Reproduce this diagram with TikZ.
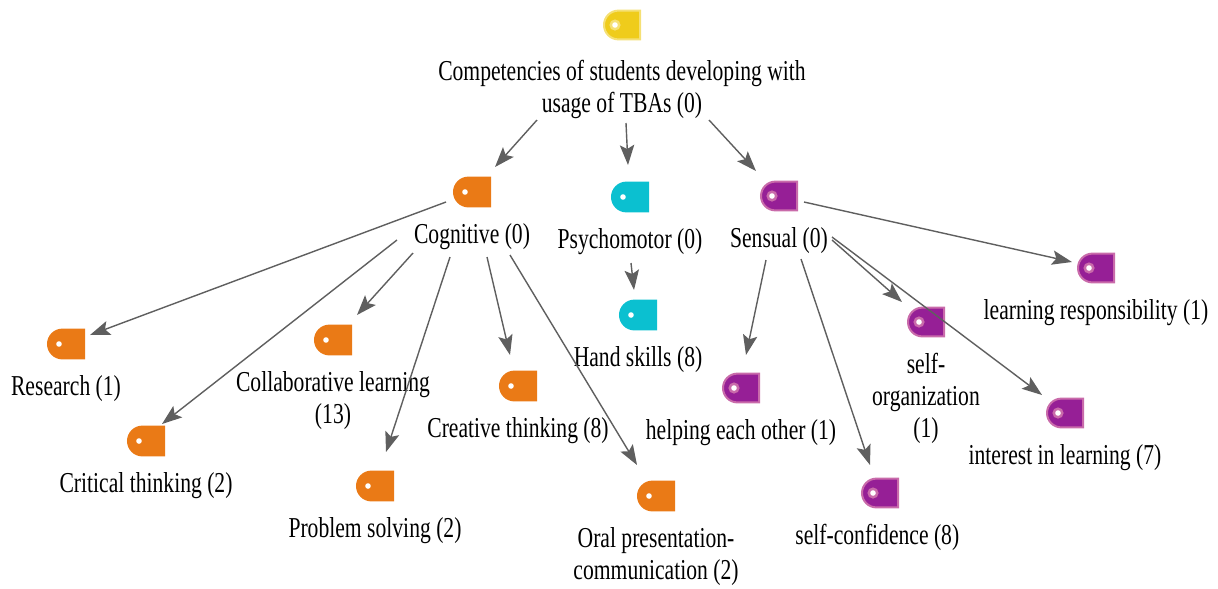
\documentclass[tikz,border=0pt]{standalone}
\usepackage{fontspec}
\setmainfont[FakeStretch=0.75]{Liberation Serif}
\usetikzlibrary{arrows.meta,shapes.misc}

\definecolor{tagyellow}{HTML}{EFCC1B}
\definecolor{tagyellowedge}{HTML}{F5E075}
\definecolor{tagorange}{HTML}{EA7A16}
\definecolor{tagcyan}{HTML}{0BC0D0}
\definecolor{tagpurple}{HTML}{961F96}
\definecolor{tagpurpleedge}{HTML}{C96BAA}
\definecolor{edgegray}{HTML}{5F5F5F}

\tikzset{
  tagbox/.style 2 args={rounded rectangle,rounded rectangle east arc=none,
    minimum width=.9cm,minimum height=.72cm,inner sep=0pt,line width=.05cm,fill=#1,draw=#2,
    path picture={
      \fill[#2] ([xshift=-.175cm]path picture bounding box.center) circle (.14cm);
      \fill[white] ([xshift=-.175cm]path picture bounding box.center) circle (.07cm);
    }},
  yellowtag/.style={tagbox={tagyellow}{tagyellowedge}},
  orangetag/.style={tagbox={tagorange}{tagorange}},
  cyantag/.style={tagbox={tagcyan}{tagcyan}},
  purpletag/.style={tagbox={tagpurple}{tagpurpleedge}},
  taglabel/.style={anchor=north,inner sep=0pt,align=center,font=\fontsize{20.5}{22.8}\selectfont},
  edgeline/.style={draw=edgegray,line width=1pt,-{Stealth[length=.5cm,width=.36cm,inset=.1cm]}}
}

\begin{document}
\begin{tikzpicture}[x=.025cm,y=-.025cm]
\useasboundingbox (0,0) rectangle (1218,588);

% the top tag sits a little further from its caption
\node[yellowtag] (root) at (622,25) {};
\node[taglabel] (rootLabel) at (622,60) {Competencies of students developing with\\usage of TBAs (0)};

% tags with their captions
\foreach \name/\x/\y/\kind/\txt in {
  cognitive/472/192/orangetag/{Cognitive (0)},
  psychomotor/630/197/cyantag/{Psychomotor (0)},
  sensual/779/196/purpletag/{Sensual (0)},
  research/66/344/orangetag/{Research (1)},
  critical/146/441/orangetag/{Critical thinking (2)},
  collaborative/333/340/orangetag/{Collaborative learning\\(13)},
  problem/375/486/orangetag/{Problem solving (2)},
  creative/518/386/orangetag/{Creative thinking (8)},
  oral/656/496/orangetag/{Oral presentation-\\communication (2)},
  hand/638/315/cyantag/{Hand skills (8)},
  responsibility/1096/268/purpletag/{learning responsibility (1)},
  organization/926/322/purpletag/{self-\\organization\\(1)},
  interest/1065/413/purpletag/{interest in learning (7)},
  helping/741/388/purpletag/{helping each other (1)},
  confidence/880/493/purpletag/{self-confidence (8)}
}{
  \node[\kind] (\name) at (\x,\y) {};
  \node[taglabel] (\name Label) at (\x,\y+31) {\txt};
}

% links, ends given relative to the tags
\foreach \a/\ax/\ay/\b/\bx/\by in {
  root/-85/95/cognitive/23/-25,
  root/4/98/psychomotor/-2/-32,
  root/87/95/sensual/-23/-25,
  cognitive/-26/10/research/24/-9,
  cognitive/-75/48/critical/16/-17,
  cognitive/-59/61/collaborative/24/-25,
  cognitive/-22/65/problem/11/-34,
  cognitive/15/65/creative/-8/-31,
  cognitive/38/63/oral/-19/-31,
  psychomotor/1/66/hand/-4/-25,
  sensual/25/6/responsibility/-24/-6,
  sensual/53/44/organization/-24/-20,
  sensual/53/41/interest/-23/-18,
  sensual/-13/64/helping/5/-33,
  sensual/22/63/confidence/-10/-28
}{
  \draw[edgeline] ([shift={(\ax,\ay)}]\a.center) -- ([shift={(\bx,\by)}]\b.center);
}

\end{tikzpicture}
\end{document}
